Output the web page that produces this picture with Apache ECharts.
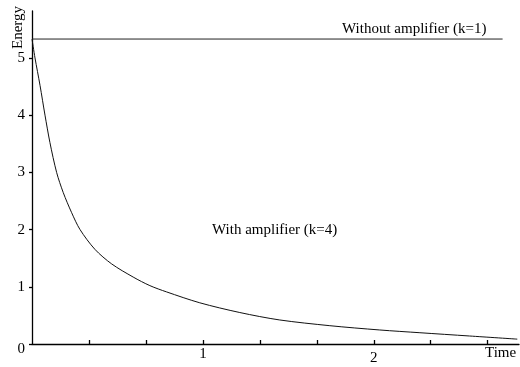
<!DOCTYPE html>
<html>
<head>
<meta charset="utf-8">
<script src="https://cdn.jsdelivr.net/npm/echarts@6/dist/echarts.min.js"></script>
<style>
  html, body { margin: 0; padding: 0; background: #fff; }
  #chart { width: 520px; height: 367px; }
</style>
</head>
<body>
<div id="chart"></div>
<script>
// values
var timeK4 = [0, 0.0175, 0.047, 0.076, 0.105, 0.144, 0.183, 0.232, 0.281, 0.368, 0.466, 0.592, 0.69, 0.788, 0.982, 1.216, 1.45, 1.743, 2.035, 2.27, 2.56, 2.84];
var energyK4 = [5.33, 5.0, 4.52, 4.0, 3.52, 3.0, 2.645, 2.295, 2.0, 1.655, 1.40, 1.17, 1.02, 0.91, 0.72, 0.55, 0.42, 0.32, 0.245, 0.197, 0.14, 0.085];
var timeK1 = [0, 2.754];
var energyK1 = [5.33, 5.33];
var xTicks = [1 / 3, 2 / 3, 1, 4 / 3, 5 / 3, 2, 7 / 3, 8 / 3];
var xLabels = [1, 2];
var yTicks = [0, 1, 2, 3, 4, 5];

var font = 'Liberation Serif';

function pairs(xs, ys) {
  return xs.map(function (x, i) { return [x, ys[i]]; });
}

var chart = echarts.init(document.getElementById('chart'));
var option = {
  backgroundColor: '#fff',
  animation: false,
  grid: { left: 32, right: 1, top: 11, bottom: 23, containLabel: false },
  xAxis: {
    type: 'value',
    min: 0,
    max: 2.85,
    splitLine: { show: false },
    axisLine: { lineStyle: { color: '#000', width: 1.3 } },
    axisTick: { inside: true, length: 4, customValues: xTicks, lineStyle: { color: '#000', width: 1.3 } },
    axisLabel: {
      customValues: xLabels,
      margin: 3,
      color: '#000',
      fontFamily: font,
      fontSize: 15,
      formatter: function (v) {
        return Math.abs(v - 2) < 1e-6 ? '{low|2}' : String(Math.round(v));
      },
      rich: { low: { padding: [4, 0, 0, 0], fontFamily: font, fontSize: 15, color: '#000' } }
    }
  },
  yAxis: {
    type: 'value',
    min: 0,
    max: 5.82,
    splitLine: { show: false },
    axisLine: { show: true, lineStyle: { color: '#000', width: 1.3 } },
    axisTick: { show: true, length: 3, customValues: yTicks, lineStyle: { color: '#000', width: 1.3 } },
    axisLabel: {
      customValues: yTicks,
      margin: 7,
      color: '#000',
      fontFamily: font,
      fontSize: 15,
      formatter: function (v) {
        return v === 0 ? '{zero|0}' : String(v);
      },
      rich: { zero: { padding: [11, 0, 0, 0], fontFamily: font, fontSize: 15, color: '#000' } }
    }
  },
  series: [
    {
      name: 'Without amplifier (k=1)',
      type: 'line',
      data: pairs(timeK1, energyK1),
      showSymbol: false,
      lineStyle: { color: '#222', width: 1 }
    },
    {
      name: 'With amplifier (k=4)',
      type: 'line',
      data: pairs(timeK4, energyK4),
      showSymbol: false,
      smooth: 0.3,
      lineStyle: { color: '#111', width: 1 }
    }
  ],
  graphic: [
    {
      type: 'text', left: 342, top: 22,
      style: { text: 'Without amplifier (k=1)', font: '15px "Liberation Serif"', fill: '#000' }
    },
    {
      type: 'text', left: 212, top: 223,
      style: { text: 'With amplifier (k=4)', font: '15px "Liberation Serif"', fill: '#000' }
    },
    {
      type: 'text', left: 485, top: 346,
      style: { text: 'Time', font: '15px "Liberation Serif"', fill: '#000' }
    },
    {
      type: 'text', x: 11, y: 49, rotation: Math.PI / 2,
      style: { text: 'Energy', font: '15px "Liberation Serif"', fill: '#000' }
    }
  ]
};
chart.setOption(option);
</script>
</body>
</html>
